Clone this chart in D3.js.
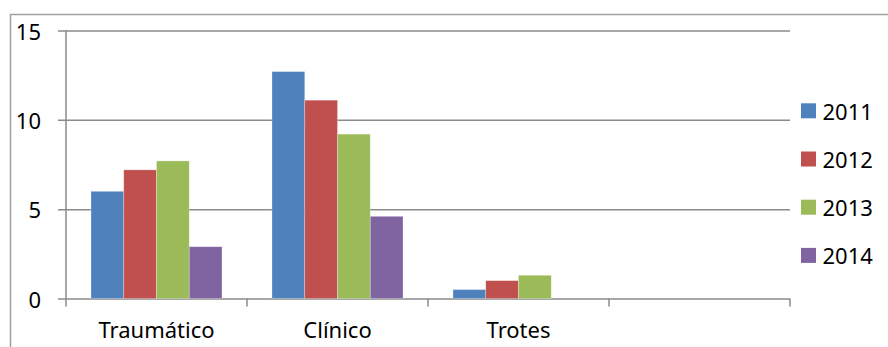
<!DOCTYPE html>
<html>
<head>
<meta charset="utf-8">
<script src="https://cdn.jsdelivr.net/npm/d3@7"></script>
<style>
  html, body { margin: 0; padding: 0; background: #fff; }
  svg { display: block; font-family: "Noto Sans", sans-serif; }
</style>
</head>
<body>
<svg id="chart" width="888" height="347"></svg>
<script>
// Categories (the fourth slot is an empty group on the axis)
const categories = ["Traumático", "Clínico", "Trotes", ""];
const seriesNames = ["2011", "2012", "2013", "2014"];
const values2011 = [6.0, 12.7, 0.5, null];
const values2012 = [7.2, 11.1, 1.0, null];
const values2013 = [7.7, 9.2, 1.3, null];
const values2014 = [2.9, 4.6, 0, null];
const yTicks = [0, 5, 10, 15];
const colors = ["#4F81BD", "#C0504D", "#9BBB59", "#8064A2"];

const seriesValues = [values2011, values2012, values2013, values2014];

const svg = d3.select("#chart");
const gridColor = "#8a8a8a";
const fontSize = 22;

// Outer chart frame (runs past the right and bottom edges)
svg.append("rect")
  .attr("x", 10.5).attr("y", 14.5)
  .attr("width", 1000).attr("height", 500)
  .attr("fill", "none").attr("stroke", "#a0a0a0").attr("stroke-width", 1.5);

const plot = { left: 66, right: 790, top: 30.5, bottom: 298.5 };

const x0 = d3.scaleBand()
  .domain(d3.range(categories.length))
  .range([plot.left, plot.right])
  .paddingInner(0).paddingOuter(0);

const x1 = d3.scaleBand()
  .domain(d3.range(seriesNames.length))
  .range([0, x0.bandwidth()])
  .paddingOuter(0.763).paddingInner(0);

const y = d3.scaleLinear().domain([0, 15]).range([plot.bottom, plot.top]);

// Horizontal gridlines with small left ticks
const yAxis = d3.axisLeft(y).tickValues(yTicks)
  .tickSize(-(plot.right - plot.left))
  .tickSizeOuter(0)
  .tickFormat("");
const gy = svg.append("g").attr("transform", `translate(${plot.left},0)`).call(yAxis);
gy.select(".domain").remove();
gy.selectAll(".tick line")
  .attr("x1", -8)
  .attr("stroke", gridColor).attr("stroke-width", 1.5);

// Vertical axis line
svg.append("line")
  .attr("x1", plot.left).attr("x2", plot.left)
  .attr("y1", plot.top).attr("y2", plot.bottom)
  .attr("stroke", gridColor).attr("stroke-width", 1.5);

// Y tick labels
svg.append("g").selectAll("text")
  .data(yTicks).join("text")
  .attr("x", 41).attr("y", d => y(d))
  .attr("text-anchor", "end")
  .attr("dominant-baseline", "central")
  .attr("font-size", fontSize).attr("fill", "#000")
  .text(d => d);

// Category boundary ticks below the baseline
const bounds = d3.range(categories.length + 1).map(i =>
  i < categories.length ? x0(i) : x0(categories.length - 1) + x0.bandwidth());
svg.append("g").selectAll("line")
  .data(bounds).join("line")
  .attr("x1", d => d).attr("x2", d => d)
  .attr("y1", plot.bottom).attr("y2", plot.bottom + 8)
  .attr("stroke", gridColor).attr("stroke-width", 1.5);

// Bars
const groups = svg.append("g").selectAll("g")
  .data(categories.map((c, i) => i)).join("g")
  .attr("transform", i => `translate(${x0(i)},0)`);

groups.selectAll("rect")
  .data(i => seriesValues.map((vals, s) => ({ s, v: vals[i] })).filter(d => d.v != null && d.v > 0))
  .join("rect")
  .attr("x", d => x1(d.s))
  .attr("width", x1.bandwidth())
  .attr("y", d => y(d.v))
  .attr("height", d => y(0) - y(d.v))
  .attr("fill", d => colors[d.s])
  .attr("stroke", "rgba(255,255,255,0.35)")
  .attr("stroke-width", 0.8);

// Category labels
svg.append("g").selectAll("text")
  .data(categories).join("text")
  .attr("x", (d, i) => x0(i) + x0.bandwidth() / 2)
  .attr("y", 338)
  .attr("text-anchor", "middle")
  .attr("font-size", fontSize).attr("fill", "#000")
  .text(d => d);

// Legend
const legend = svg.append("g").selectAll("g")
  .data(seriesNames).join("g")
  .attr("transform", (d, i) => `translate(801,${110.8 + i * 48.2})`);
legend.append("rect")
  .attr("x", 0).attr("y", -7.5)
  .attr("width", 15).attr("height", 15)
  .attr("fill", (d, i) => colors[i]);
legend.append("text")
  .attr("x", 21.5).attr("y", 0)
  .attr("dominant-baseline", "central")
  .attr("font-size", fontSize).attr("fill", "#000")
  .text(d => d);
</script>
</body>
</html>
